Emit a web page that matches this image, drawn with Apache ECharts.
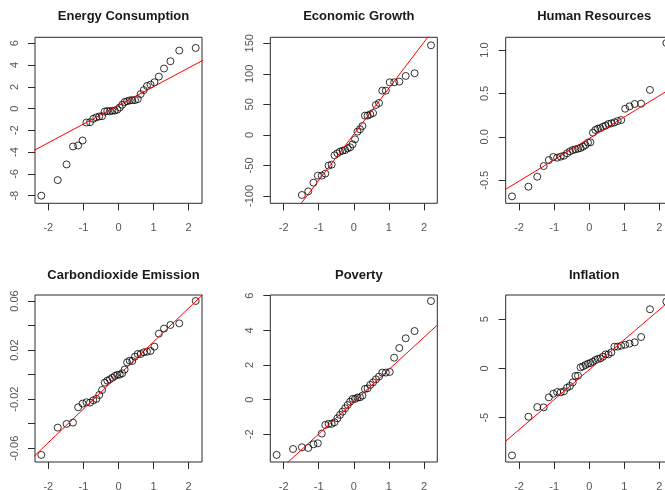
<!DOCTYPE html>
<html>
<head>
<meta charset="utf-8">
<script src="https://cdn.jsdelivr.net/npm/echarts@6/dist/echarts.min.js"></script>
<style>
  html, body { margin: 0; padding: 0; background: #fff; }
  #chart { width: 665px; height: 490px; }
</style>
</head>
<body>
<div id="chart"></div>
<script>
// Theoretical normal quantiles for 36 observations (shared by every panel)
const quantiles = [-2.200, -1.732, -1.480, -1.297, -1.150, -1.024, -0.913, -0.812, -0.719,
  -0.631, -0.549, -0.469, -0.393, -0.319, -0.246, -0.175, -0.105, -0.035,
  0.035, 0.105, 0.175, 0.246, 0.319, 0.393, 0.469, 0.549, 0.631,
  0.719, 0.812, 0.913, 1.024, 1.150, 1.297, 1.480, 1.732, 2.200];

const panelTitles = ['Energy Consumption', 'Economic Growth', 'Human Resources',
  'Carbondioxide Emission', 'Poverty', 'Inflation'];

// Sample quantiles (sorted residuals) per variable
const energyConsumption = [-8.0, -6.57, -5.13, -3.48, -3.39, -2.93, -1.28, -1.25, -0.94,
  -0.8, -0.72, -0.7, -0.27, -0.22, -0.25, -0.2, -0.18, -0.1,
  0.1, 0.35, 0.6, 0.68, 0.75, 0.78, 0.78, 0.87, 1.33,
  1.7, 2.08, 2.2, 2.42, 2.94, 3.68, 4.35, 5.33, 5.57];
const economicGrowth = [null, null, -98.4, -92.4, -78.2, -66.7, -66.7, -63.4, -50.3,
  -48.7, -33.4, -30.1, -27.4, -25.8, -24.7, -22, -20.3, -15.4,
  -7.2, 5.3, 9.2, 14.6, 31.6, 31.6, 33.7, 35.9, 49,
  52.3, 72.5, 72.5, 86.1, 86.1, 87.2, 96.5, 100.9, 146.7];
const humanResources = [-0.685, -0.574, -0.459, -0.336, -0.267, -0.232, -0.24, -0.228, -0.217,
  -0.19, -0.167, -0.152, -0.144, -0.136, -0.128, -0.113, -0.094, -0.067,
  -0.063, 0.048, 0.079, 0.094, 0.10, 0.117, 0.129, 0.148, 0.155,
  0.167, 0.182, 0.194, 0.324, 0.351, 0.378, 0.382, 0.54, 1.08];
const co2Emission = [-0.0654, -0.0432, -0.0402, -0.0391, -0.0266, -0.0236, -0.0225, -0.0228, -0.0209,
  -0.0198, -0.0166, -0.0125, -0.0065, -0.0049, -0.0038, -0.0025, -0.0011, -0.0002,
  0.0, 0.0011, 0.0041, 0.0100, 0.0114, 0.0111, 0.0147, 0.0168, 0.0168,
  0.0182, 0.0187, 0.0193, 0.0228, 0.0334, 0.0375, 0.0405, 0.0418, 0.060];
const poverty = [-3.19, -2.85, -2.75, -2.79, -2.58, -2.52, -1.96, -1.46, -1.40,
  -1.40, -1.31, -1.08, -0.88, -0.69, -0.50, -0.31, -0.12, 0.04,
  0.04, 0.12, 0.13, 0.23, 0.62, 0.65, 0.85, 1.0, 1.17,
  1.33, 1.56, 1.56, 1.6, 2.42, 2.98, 3.54, 3.96, 5.69];
const inflation = [-8.83, -4.9, -3.92, -3.95, -2.93, -2.56, -2.39, -2.42, -2.32,
  -1.95, -1.78, -1.41, -0.76, -0.73, 0.12, 0.22, 0.36, 0.49,
  0.56, 0.69, 0.86, 0.97, 1.03, 1.2, 1.44, 1.44, 1.64,
  2.22, 2.22, 2.32, 2.42, 2.53, 2.66, 3.2, 6.02, 6.8];

// Reference lines (intercept, slope) through the quartiles
const energyLine = [0.30, 1.72];
const growthLine = [1.0, 75.4];
const humanLine = [-0.018, 0.246];
const co2Line = [-0.0006, 0.0274];
const povertyLine = [-0.12, 1.86];
const inflationLine = [-0.12, 3.05];

// Axis ranges and tick positions
const xRange = [-2.38, 2.38];
const xTicks = [-2, -1, 0, 1, 2];
const yRanges = [[-8.70, 6.55], [-112, 159.8], [-0.765, 1.146], [-0.0712, 0.0649], [-3.60, 6.04], [-9.50, 7.47]];
const yTicks = [
  [-8, -6, -4, -2, 0, 2, 4, 6],
  [-100, -50, 0, 50, 100, 150],
  [-0.5, 0, 0.5, 1.0],
  [-0.06, -0.04, -0.02, 0, 0.02, 0.04, 0.06],
  [-2, 0, 2, 4, 6],
  [-5, 0, 5]
];
const yTickLabels = [
  [-8, -6, -4, -2, 0, 2, 4, 6],
  [-100, -50, 0, 50, 100, 150],
  [-0.5, 0, 0.5, 1.0],
  [-0.06, -0.02, 0.02, 0.06],
  [-2, 0, 2, 4, 6],
  [-5, 0, 5]
];
const yDecimals = [0, 0, 1, 2, 0, 0];

const sampleSets = [energyConsumption, economicGrowth, humanResources, co2Emission, poverty, inflation];
const lineSets = [energyLine, growthLine, humanLine, co2Line, povertyLine, inflationLine];

// Panel layout (pixels)
const colLeft = [35, 270.3, 505.7];
const rowTop = [37.3, 295];
const boxW = 167;
const boxH = [166, 167];

const FONT = 'Liberation Sans, Arial, sans-serif';
const labelColor = '#555';
const boxColor = '#2b2b2b';

const grids = [], xAxes = [], yAxes = [], series = [], titles = [];

for (let i = 0; i < 6; i++) {
  const r = Math.floor(i / 3), c = i % 3;
  grids.push({
    left: colLeft[c], top: rowTop[r], width: boxW, height: boxH[r],
    show: true, borderColor: boxColor, borderWidth: 1,
    backgroundColor: 'transparent', containLabel: false, outerBoundsMode: 'none'
  });
  titles.push({
    text: panelTitles[i],
    left: colLeft[c] + boxW / 2,
    top: r === 0 ? 5 : 264,
    textAlign: 'center',
    textStyle: { fontFamily: FONT, fontSize: 13, fontWeight: 'bold', color: '#1a1a1a' }
  });
  xAxes.push({
    type: 'value', gridIndex: i, min: xRange[0], max: xRange[1],
    position: 'bottom',
    axisLine: { show: false, onZero: false },
    splitLine: { show: false },
    axisTick: { show: true, inside: false, length: 7, customValues: xTicks,
      lineStyle: { color: boxColor, width: 1 } },
    axisLabel: { show: true, margin: 19, customValues: xTicks,
      fontFamily: FONT, fontSize: 11, color: labelColor,
      formatter: v => String(v) }
  });
  const d = yDecimals[i];
  yAxes.push({
    type: 'value', gridIndex: i, min: yRanges[i][0], max: yRanges[i][1],
    position: 'left',
    axisLine: { show: false, onZero: false },
    splitLine: { show: false },
    axisTick: { show: true, inside: false, length: 7, customValues: yTicks[i],
      lineStyle: { color: boxColor, width: 1 } },
    axisLabel: { show: true, margin: 15, rotate: 90, customValues: yTickLabels[i],
      fontFamily: FONT, fontSize: 11, color: labelColor,
      formatter: v => Number(v).toFixed(d) }
  });
  const ys = sampleSets[i];
  const pts = [];
  for (let k = 0; k < quantiles.length; k++) {
    if (ys[k] !== null) pts.push([quantiles[k], ys[k]]);
  }
  series.push({
    type: 'scatter', xAxisIndex: i, yAxisIndex: i, data: pts,
    symbol: 'circle', symbolSize: 7, clip: true,
    itemStyle: { color: 'transparent', borderColor: '#000', borderWidth: 1 },
    emphasis: { disabled: true }, silent: true
  });
  const [a, b] = lineSets[i];
  series.push({
    type: 'line', xAxisIndex: i, yAxisIndex: i,
    data: [[-3, a - 3 * b], [3, a + 3 * b]],
    showSymbol: false, clip: true, silent: true,
    lineStyle: { color: '#ff0000', width: 1 }
  });
}

const chart = echarts.init(document.getElementById('chart'), null, { renderer: 'canvas' });
chart.setOption({
  animation: false,
  backgroundColor: '#ffffff',
  title: titles,
  grid: grids,
  xAxis: xAxes,
  yAxis: yAxes,
  series: series
});
</script>
</body>
</html>
